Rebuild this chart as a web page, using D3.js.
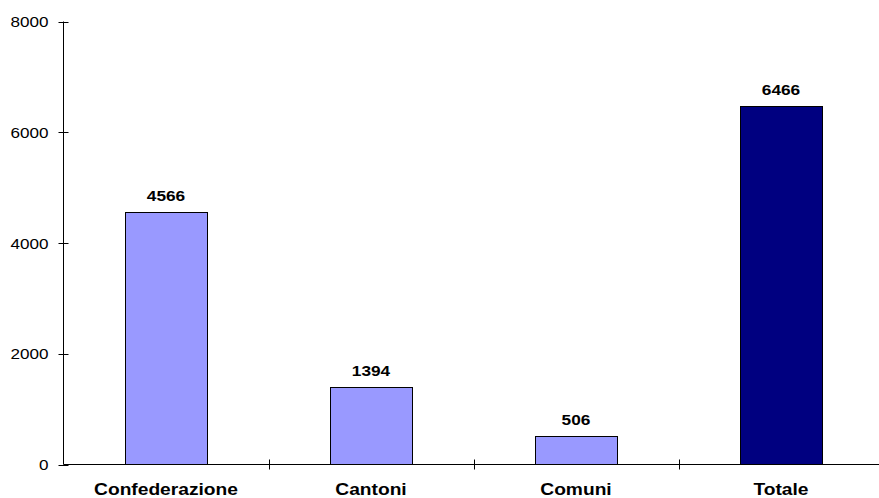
<!DOCTYPE html>
<html><head><meta charset="utf-8">
<script src="https://cdn.jsdelivr.net/npm/d3@7"></script>
<style>
html,body{margin:0;padding:0;background:#fff;}
svg{display:block;}
text{font-family:"Liberation Sans",Arial,sans-serif;fill:#000;}
</style></head>
<body>
<svg id="chart" width="879" height="498"></svg>
<script>
const categories = ["Confederazione", "Cantoni", "Comuni", "Totale"];
const values = [4566, 1394, 506, 6466];
const barColors = ["#9999ff", "#9999ff", "#9999ff", "#000080"];
const yTicks = [0, 2000, 4000, 6000, 8000];

const svg = d3.select("#chart");
const x0 = 63.5, x1 = 883.5, yBottom = 464.5, yTop = 21.5;

const x = d3.scaleBand().domain(categories).range([x0, x1]).paddingInner(0.6).paddingOuter(0.3);
const y = d3.scaleLinear().domain([0, 8000]).range([yBottom, yTop]);

// y axis
const yAxis = svg.append("g");
yAxis.append("line").attr("x1", x0).attr("x2", x0).attr("y1", yTop).attr("y2", yBottom).attr("stroke", "#000");
yAxis.selectAll("line.t").data(yTicks).join("line").attr("class","t")
  .attr("x1", x0 - 5).attr("x2", x0 + 5)
  .attr("y1", d => Math.round(y(d)) + 0.5).attr("y2", d => Math.round(y(d)) + 0.5)
  .attr("stroke", "#000");
yAxis.selectAll("text").data(yTicks).join("text")
  .attr("transform", d => `translate(48.5,${y(d) + 5.5}) scale(1.18,1)`)
  .attr("text-anchor", "end").style("font-size", "14.5px")
  .text(d => d);

// bars
svg.append("g").selectAll("rect").data(values).join("rect")
  .attr("x", (d, i) => Math.round(x(categories[i])) + 0.5)
  .attr("width", x.bandwidth())
  .attr("y", d => Math.round(y(d)) + 0.5)
  .attr("height", d => yBottom - Math.round(y(d)) - 0.5)
  .attr("fill", (d, i) => barColors[i])
  .attr("stroke", "#000").attr("stroke-width", 1);

// value labels
svg.append("g").selectAll("text").data(values).join("text")
  .attr("transform", (d, i) => `translate(${x(categories[i]) + x.bandwidth() / 2},${y(d) - 11}) scale(1.15,1)`)
  .attr("text-anchor", "middle").style("font-size", "15px").style("font-weight", "bold")
  .text(d => d);

// x axis
const step = x.step();
const xb = d3.range(categories.length + 1).map(i => x0 + i * step);
svg.append("line").attr("x1", x0).attr("x2", x1).attr("y1", yBottom).attr("y2", yBottom).attr("stroke", "#000");
svg.append("g").selectAll("line").data(xb.slice(1)).join("line")
  .attr("x1", d => Math.round(d) + 0.5).attr("x2", d => Math.round(d) + 0.5)
  .attr("y1", yBottom - 5).attr("y2", yBottom + 5).attr("stroke", "#000");
svg.append("g").selectAll("text").data(categories).join("text")
  .attr("transform", d => `translate(${x(d) + x.bandwidth() / 2},494.5) scale(1.2,1)`)
  .attr("text-anchor", "middle").style("font-size", "16px").style("font-weight", "bold")
  .text(d => d);
</script>
</body></html>
